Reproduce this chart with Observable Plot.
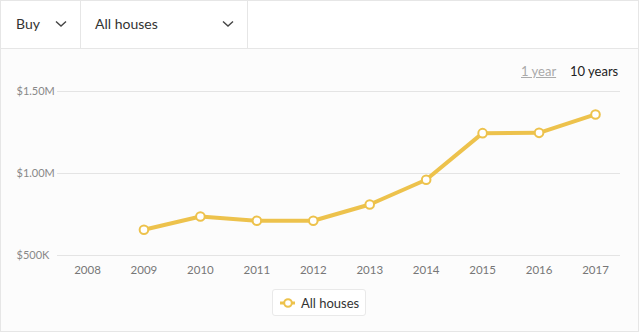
<!DOCTYPE html>
<html>
<head>
<meta charset="utf-8">
<script src="https://cdn.jsdelivr.net/npm/d3@7"></script>
<script src="https://cdn.jsdelivr.net/npm/@observablehq/plot@0.6"></script>
<style>
  html, body { margin: 0; padding: 0; background: #fff; width: 640px; height: 333px; overflow: hidden; font-family: Lato, "Open Sans", sans-serif; }
  .card { position: absolute; left: 0; top: 0; width: 639px; height: 332px; box-sizing: border-box; border: 1px solid #e6e6e6; background: #fcfcfc; }
  .header { position: absolute; left: 0; top: 0; width: 639px; height: 49px; box-sizing: border-box; border: 1px solid #e6e6e6; background: #fff; }
  .cell { position: absolute; top: 0; height: 47px; box-sizing: border-box; border-right: 1px solid #e6e6e6; font-size: 14px; color: #333; }
  .cell span { position: absolute; top: 14px; }
  .cell svg { position: absolute; top: 19px; }
  .toggle { position: absolute; top: 63px; font-size: 13px; }
  .legend { position: absolute; left: 272px; top: 289px; width: 94px; height: 27px; box-sizing: border-box; border: 1px solid #e9e9e9; border-radius: 3px; background: #fff; font-size: 13px; color: #333; }
  #chart { position: absolute; left: 0; top: 80px; }
</style>
</head>
<body>
<div class="card"></div>
<div class="header">
  <div class="cell" style="left:0;width:80px;">
    <span style="left:15px;">Buy</span>
    <svg style="left:54px;" width="12" height="8" viewBox="0 0 12 8"><polyline points="1,1.5 6,6 11,1.5" fill="none" stroke="#444" stroke-width="1.4"/></svg>
  </div>
  <div class="cell" style="left:80px;width:167px;">
    <span style="left:14px;">All houses</span>
    <svg style="left:141px;" width="12" height="8" viewBox="0 0 12 8"><polyline points="1,1.5 6,6 11,1.5" fill="none" stroke="#444" stroke-width="1.4"/></svg>
  </div>
</div>
<div class="toggle" style="left:521px;color:#aaa;text-decoration:underline;">1 year</div>
<div class="toggle" style="left:570px;color:#222;">10 years</div>
<div id="chart"></div>
<div class="legend">
  <svg style="position:absolute;left:7px;top:7px;" width="16" height="12" viewBox="0 0 16 12"><line x1="0" y1="6" x2="15" y2="6" stroke="#edc24c" stroke-width="3"/><circle cx="8" cy="6" r="3.8" fill="#fff" stroke="#edc24c" stroke-width="2"/></svg>
  <span style="position:absolute;left:28px;top:5px;" id="legendText"></span>
</div>
<script>
const seriesName = "All houses";
const years = [2009, 2010, 2011, 2012, 2013, 2014, 2015, 2016, 2017];
const prices = [657000, 738000, 712000, 712000, 811000, 962000, 1246000, 1248000, 1360000];
const xTicks = [2008, 2009, 2010, 2011, 2012, 2013, 2014, 2015, 2016, 2017];
const yTicks = [500000, 1000000, 1500000];
const yTickLabels = ["$500K", "$1.00M", "$1.50M"];

document.getElementById("legendText").textContent = seriesName;

const data = years.map((y, i) => ({year: y, price: prices[i]}));
const yLabelData = yTicks.map((v, i) => ({v, label: yTickLabels[i]}));
const color = "#edc24c";

const chart = Plot.plot({
  width: 640,
  height: 205,
  marginLeft: 87,
  marginRight: 45,
  marginTop: 11,
  marginBottom: 30,
  style: { background: "transparent", fontFamily: "Lato, 'Open Sans', sans-serif", fontSize: "11px" },
  x: { domain: [2008, 2017], label: null },
  y: { domain: [500000, 1500000], axis: null, label: null },
  marks: [
    Plot.ruleY(yTicks, { stroke: "#e4e4e4", strokeWidth: 1, insetLeft: -30, insetRight: -25 }),
    Plot.text(yLabelData, { y: "v", text: "label", frameAnchor: "left", textAnchor: "start", dx: -71, fill: "#888", fontSize: 11 }),
    Plot.axisX({ ticks: xTicks, tickFormat: d => String(d), tickSize: 0, tickPadding: 10, fill: "#777", fontSize: 11.5, label: null }),
    Plot.line(data, { x: "year", y: "price", stroke: color, strokeWidth: 4, strokeLinejoin: "round", strokeLinecap: "round" }),
    Plot.dot(data, { x: "year", y: "price", r: 4.3, fill: "#fff", stroke: color, strokeWidth: 2 })
  ]
});
document.getElementById("chart").appendChild(chart);
</script>
</body>
</html>
